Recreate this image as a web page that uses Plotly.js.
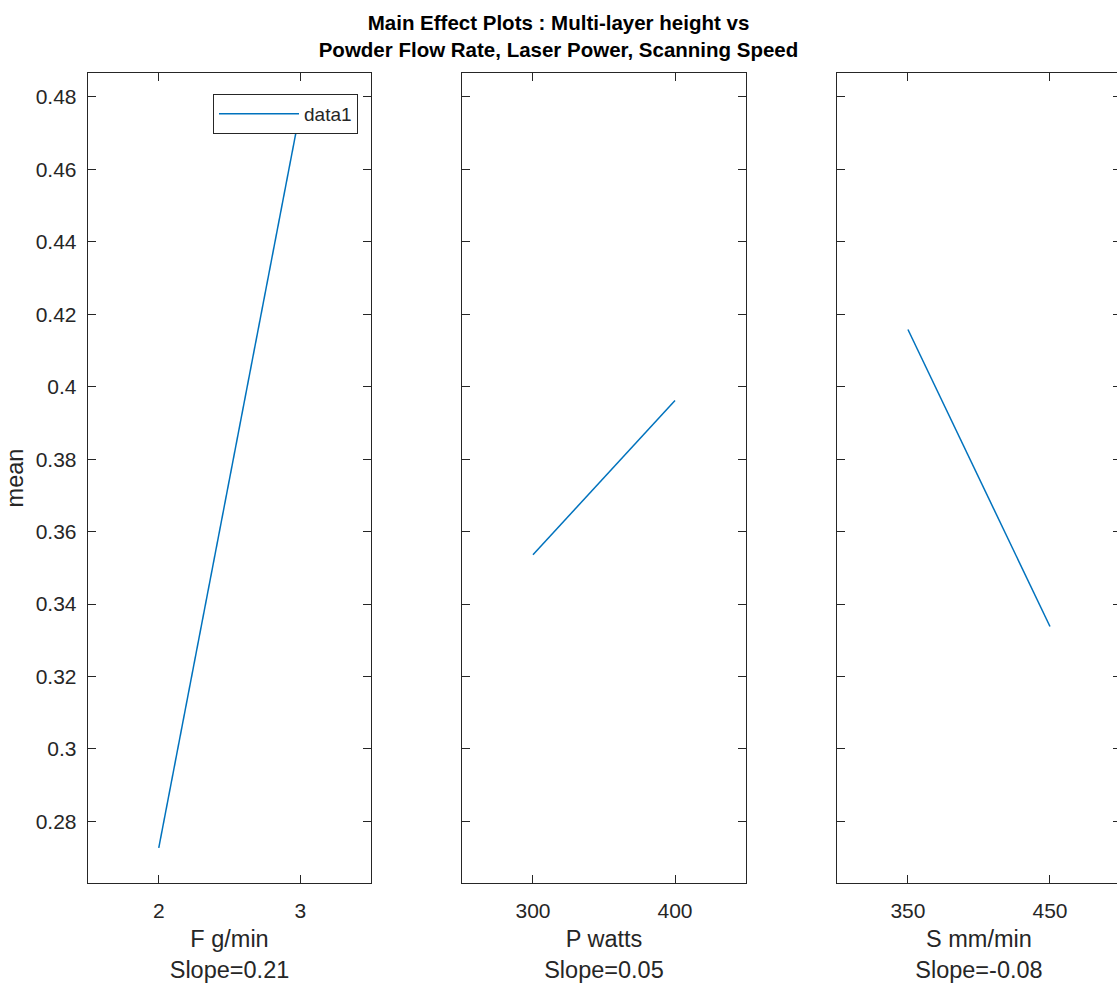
<!DOCTYPE html>
<html>
<head>
<meta charset="utf-8">
<script src="https://cdn.plot.ly/plotly-3.0.1.min.js"></script>
<style>
html, body { margin: 0; padding: 0; overflow: hidden; background: #fff; }
#chart { width: 1140px; height: 986px; }
</style>
</head>
<body>
<div id="chart"></div>
<script>
// ---- data ----
const flowX = [2, 3];
const flowMean = [0.2727, 0.4764];
const powerX = [300, 400];
const powerMean = [0.3536, 0.3962];
const speedX = [350, 450];
const speedMean = [0.4158, 0.3338];

const flowTicks = [2, 3];
const powerTicks = [300, 400];
const speedTicks = [350, 450];
const yTickVals = [0.28, 0.30, 0.32, 0.34, 0.36, 0.38, 0.40, 0.42, 0.44, 0.46, 0.48];
const yTickText = ['0.28', '0.3', '0.32', '0.34', '0.36', '0.38', '0.4', '0.42', '0.44', '0.46', '0.48'];

const xLabels = ['F g/min<br>Slope=0.21', 'P watts<br>Slope=0.05', 'S mm/min<br>Slope=-0.08'];
const seriesName = 'data1';
const titleText = 'Main Effect Plots : Multi-layer height vs<br>Powder Flow Rate, Laser Power, Scanning Speed';

// ---- styling ----
const lineColor = '#0072BD';
const axisColor = '#262626';
const fontFam = '"Liberation Sans", Arial, Helvetica, sans-serif';

const traces = [
  { x: flowX, y: flowMean, xaxis: 'x', yaxis: 'y', mode: 'lines', name: seriesName,
    line: { color: lineColor, width: 1.5 }, showlegend: true },
  { x: powerX, y: powerMean, xaxis: 'x2', yaxis: 'y2', mode: 'lines', name: seriesName,
    line: { color: lineColor, width: 1.5 }, showlegend: false },
  { x: speedX, y: speedMean, xaxis: 'x3', yaxis: 'y3', mode: 'lines', name: seriesName,
    line: { color: lineColor, width: 1.5 }, showlegend: false }
];

const yRange = [0.263, 0.4866];

function xAxis(domain, range, ticks, label) {
  return {
    domain: domain, range: range, tickvals: ticks,
    ticks: 'inside', ticklen: 8, tickwidth: 1, tickcolor: axisColor,
    showline: true, linecolor: axisColor, linewidth: 1.3, mirror: 'ticks',
    showgrid: false, zeroline: false,
    tickfont: { family: fontFam, size: 21, color: axisColor },
    ticklabelstandoff: 8,
    title: { text: label, standoff: 10, font: { family: fontFam, size: 23.5, color: axisColor } }
  };
}
function yAxis(anchor, showLabels, title) {
  const a = {
    anchor: anchor, range: yRange, tickvals: yTickVals, ticktext: yTickText,
    ticks: 'inside', ticklen: 8, tickwidth: 1, tickcolor: axisColor,
    showline: true, linecolor: axisColor, linewidth: 1.3, mirror: 'ticks',
    showgrid: false, zeroline: false, showticklabels: showLabels,
    tickfont: { family: fontFam, size: 21, color: axisColor },
    ticklabelstandoff: 6
  };
  if (title) a.title = { text: title, standoff: 5, font: { family: fontFam, size: 23.5, color: axisColor } };
  return a;
}

const W = 1140, H = 986;
const layout = {
  width: W, height: H,
  margin: { l: 88, r: 19, t: 73, b: 103 },
  paper_bgcolor: '#ffffff', plot_bgcolor: '#ffffff',
  font: { family: fontFam, color: axisColor },
  title: {
    text: titleText, xref: 'container', x: 558.5 / W, xanchor: 'center',
    yref: 'container', y: 1 - 30 / H, yanchor: 'middle',
    font: { family: fontFam, size: 20.5, color: '#000000', weight: 'bold' }
  },
  xaxis: xAxis([0, 0.274], [1.5, 3.5], flowTicks, xLabels[0]),
  xaxis2: xAxis([0.362, 0.637], [250, 450], powerTicks, xLabels[1]),
  xaxis3: xAxis([0.725, 1], [300, 500], speedTicks, xLabels[2]),
  yaxis: yAxis('x', true, 'mean'),
  yaxis2: yAxis('x2', false, null),
  yaxis3: yAxis('x3', false, null),
  showlegend: true,
  legend: {
    x: (358 - 88) / 1033, xanchor: 'right', xref: 'paper',
    y: (883 - 94) / 810, yanchor: 'top', yref: 'paper',
    bgcolor: '#ffffff', bordercolor: axisColor, borderwidth: 1,
    font: { family: fontFam, size: 19, color: axisColor },
    itemwidth: 80, tracegroupgap: 0
  }
};

Plotly.newPlot('chart', traces, layout, { displayModeBar: false, staticPlot: true });
</script>
</body>
</html>
